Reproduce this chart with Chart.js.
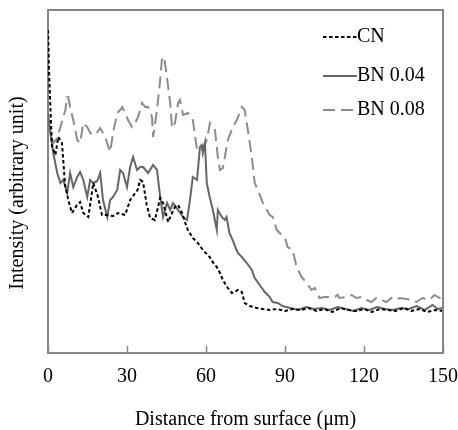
<!DOCTYPE html>
<html lang="en">
<head>
    <meta charset="UTF-8">
    <title>Intensity vs distance</title>
    <script src="https://cdn.jsdelivr.net/npm/chart.js@4.4.1/dist/chart.umd.min.js"></script>
    <style>
        body {
            margin: 0;
            background: #fff;
        }
        #wrap {
            width: 458px;
            height: 430px;
        }
    </style>
</head>
<body>
    <div id="wrap"><canvas id="profile"></canvas></div>

    <script>
        const FONT = '"Liberation Serif", "Times New Roman", serif';

        const xTicks = [0, 30, 60, 90, 120, 150];
        const seriesNames = ['CN', 'BN 0.04', 'BN 0.08'];

        // CN (dotted black)
        const cnX = [0, 0.5, 1.5, 2.8, 3.9, 5.3, 6.5, 7.7, 9.1, 11, 12.2, 13.4, 15.3, 17.2, 19, 20.5,
            22.3, 24.7, 26.6, 29.3, 31.2, 34, 35, 36.1, 37.5, 38.8, 40.6, 42.6, 43.7, 45.6, 47.1,
            48.2, 49.4, 50.9, 52, 53.1, 55, 56.9, 58.8, 61.4, 62.5, 64.1, 65.3, 66.4, 68.3, 69.8,
            70.9, 72.1, 73.6, 74.7, 76.6, 79.3, 81.5, 84.2, 87, 90, 93, 96, 99, 102, 105, 108, 111,
            114, 117, 120, 123, 126, 129, 132, 135, 138, 141, 144, 147, 150];
        const cnY = [323, 273, 207, 198, 216, 210, 168, 153, 140, 148, 151, 140, 136, 170, 156, 138,
            138, 137, 140, 138, 153, 163, 173, 171, 148, 135, 133, 155, 150, 131, 140,
            146, 148, 140, 131, 123, 115, 110, 103, 96, 91, 86, 80, 73, 65, 60,
            61, 63, 61, 50, 47, 45, 44, 43, 44, 42, 44, 43, 45, 42, 44, 41, 45,
            43, 42, 44, 41, 44, 43, 42, 45, 42, 44, 41, 43, 42];

        // BN 0.04 (solid grey)
        const bn04X = [0, 0.9, 2, 3.5, 4.7, 5.8, 7.3, 8.4, 9.6, 11.1, 12.2, 13.4, 14.9, 16, 17.2, 18.7,
            19.8, 20.9, 22.5, 23.6, 24.7, 26.3, 27.4, 28.5, 30, 31.2, 32.3, 33.8, 35, 36.1, 38,
            39.9, 41.4, 42.6, 43.7, 45.2, 46.4, 47.5, 49.4, 51.3, 52.8, 53.9, 55, 56.6, 57.7, 58.4,
            58.8, 59.6, 60.3, 61.4, 62.6, 64.1, 64.5, 66, 67.1, 67.8, 68.9, 70.1, 71.6, 72.1, 73.6,
            75.5, 77.4, 78.5, 80.4, 82.3, 84.2, 85.3, 87.2, 89.1, 92, 95, 98, 101, 104, 107, 110,
            113, 116, 119, 122, 125, 128, 131, 134, 137, 140, 143, 146, 148, 150];
        const bn04Y = [240, 220, 200, 180, 170, 173, 160, 180, 166, 176, 181, 173, 156, 173, 170, 172,
            180, 153, 136, 153, 156, 163, 183, 180, 166, 186, 196, 183, 186, 186, 180,
            188, 183, 156, 136, 150, 143, 150, 143, 136, 133, 153, 176, 173, 206, 208,
            200, 210, 170, 156, 143, 123, 143, 136, 133, 136, 120, 113, 103, 100, 96,
            90, 83, 75, 68, 61, 56, 51, 50, 47, 45, 43, 46, 44, 45, 43, 46,
            44, 42, 45, 43, 46, 44, 43, 45, 44, 47, 43, 48, 44, 45];

        // BN 0.08 (dashed light grey)
        const bn08X = [0, 0.9, 2, 3.5, 4.7, 5.8, 6.6, 7.3, 7.7, 8.4, 9.6, 11.1, 12.2, 13.4, 14.9, 16,
            17.9, 19.8, 21.7, 23.6, 24.7, 26.3, 27.4, 28.2, 29.3, 30.4, 31.9, 33.1, 34.2, 35.7,
            36.9, 38, 39.5, 39.9, 41.4, 42.6, 43.3, 44.1, 45.3, 46.4, 47.1, 48.2, 49.4, 50.1, 51.3,
            53.2, 55, 56.6, 58.4, 60.3, 61.5, 63.4, 64.5, 65.3, 66.4, 68.3, 70.2, 71.7, 73.6, 74.7,
            75.9, 77.4, 78.5, 79.7, 81.6, 84.2, 85.3, 86.9, 88.7, 89.9, 91, 92.9, 94.4, 96.3, 98.2,
            100.1, 101.3, 103.1, 105, 106.9, 108.8, 110, 110.7, 113.4, 115.3, 117.1, 119, 120.9,
            122.8, 124.7, 126.6, 128.5, 130.4, 132.3, 133.5, 136.1, 138, 139.9, 142.2, 144.8,
            146.8, 148.7, 150];
        const bn08Y = [233, 220, 210, 215, 226, 236, 243, 256, 256, 246, 233, 213, 210, 230, 226, 220,
            218, 225, 216, 201, 220, 240, 243, 246, 240, 233, 226, 230, 236, 250,
            246, 246, 236, 216, 243, 273, 295, 296, 273, 250, 225, 230, 250, 253, 238,
            240, 233, 203, 203, 213, 230, 223, 196, 183, 185, 213, 226, 233, 246, 243,
            223, 196, 170, 163, 150, 138, 136, 123, 118, 116, 106, 103, 86, 76, 70,
            63, 65, 55, 56, 56, 56, 58, 55, 56, 58, 55, 56, 53,
            51, 55, 53, 51, 55, 53, 55, 54, 53, 51, 55, 53,
            58, 55, 54];

        function pairs(xs, ys) {
            return xs.map((x, i) => ({ x: x, y: ys[i] }));
        }

        // frame on top/right, inner tick marks, legend and y title
        const decor = {
            id: 'decor',
            afterDraw(chart) {
                const ctx = chart.ctx;
                const a = chart.chartArea;
                const xs = chart.scales.x;
                ctx.save();
                ctx.strokeStyle = '#858585';
                ctx.lineWidth = 2;
                ctx.beginPath();
                ctx.moveTo(a.left, a.top);
                ctx.lineTo(a.right, a.top);
                ctx.lineTo(a.right, a.bottom);
                ctx.stroke();

                ctx.lineWidth = 1.5;
                xTicks.forEach(t => {
                    const px = Math.round(xs.getPixelForValue(t)) + 0.5;
                    ctx.beginPath();
                    ctx.moveTo(px, a.bottom);
                    ctx.lineTo(px, a.bottom - 7);
                    ctx.stroke();
                });

                // legend
                ctx.font = '20px ' + FONT;
                ctx.textBaseline = 'middle';
                ctx.fillStyle = '#000';
                const rows = [37, 76, 110];
                chart.data.datasets.forEach((ds, i) => {
                    const y = rows[i];
                    ctx.strokeStyle = ds.borderColor;
                    ctx.lineWidth = ds.borderWidth;
                    ctx.setLineDash(ds.borderDash || []);
                    ctx.beginPath();
                    ctx.moveTo(323, y);
                    ctx.lineTo(357, y);
                    ctx.stroke();
                    ctx.setLineDash([]);
                    ctx.fillText(ds.label, 357, y);
                });

                // y axis title
                ctx.translate(18, 193);
                ctx.rotate(-Math.PI / 2);
                ctx.textAlign = 'center';
                ctx.fillText('Intensity (arbitrary unit)', 0, 0);
                ctx.restore();
            }
        };

        new Chart(document.getElementById('profile'), {
            type: 'line',
            data: {
                datasets: [
                    {
                        label: seriesNames[0],
                        data: pairs(cnX, cnY),
                        borderColor: '#000000',
                        borderWidth: 2,
                        borderDash: [3.5, 2.5]
                    },
                    {
                        label: seriesNames[1],
                        data: pairs(bn04X, bn04Y),
                        borderColor: '#666666',
                        borderWidth: 2
                    },
                    {
                        label: seriesNames[2],
                        data: pairs(bn08X, bn08Y),
                        borderColor: '#8c8c8c',
                        borderWidth: 2,
                        borderDash: [12, 6]
                    }
                ]
            },
            options: {
                responsive: true,
                maintainAspectRatio: false,
                animation: false,
                layout: { padding: { top: 10, right: 0, left: 0, bottom: 0 } },
                elements: {
                    point: { radius: 0 },
                    line: { tension: 0, fill: false }
                },
                plugins: {
                    legend: { display: false },
                    tooltip: { enabled: false }
                },
                scales: {
                    x: {
                        type: 'linear',
                        min: 0,
                        max: 150,
                        afterBuildTicks: scale => {
                            scale.ticks = xTicks.map(v => ({ value: v }));
                        },
                        afterFit: scale => { scale.height = 77; },
                        // tick marks are drawn inward by the plugin; tickLength only spaces the labels
                        grid: { display: false, drawTicks: true, tickLength: 12 },
                        border: { color: '#858585', width: 2 },
                        ticks: {
                            color: '#000',
                            padding: 0,
                            maxRotation: 0,
                            font: { family: FONT, size: 20 }
                        },
                        title: {
                            display: true,
                            text: 'Distance from surface (μm)',
                            color: '#000',
                            padding: { top: 0, bottom: -2 },
                            font: { family: FONT, size: 20 }
                        }
                    },
                    y: {
                        min: 0,
                        max: 343,
                        afterFit: scale => { scale.width = 48; },
                        grid: { display: false, drawTicks: false },
                        border: { color: '#858585', width: 2 },
                        ticks: { display: false }
                    }
                }
            },
            plugins: [decor]
        });
    </script>
</body>
</html>
